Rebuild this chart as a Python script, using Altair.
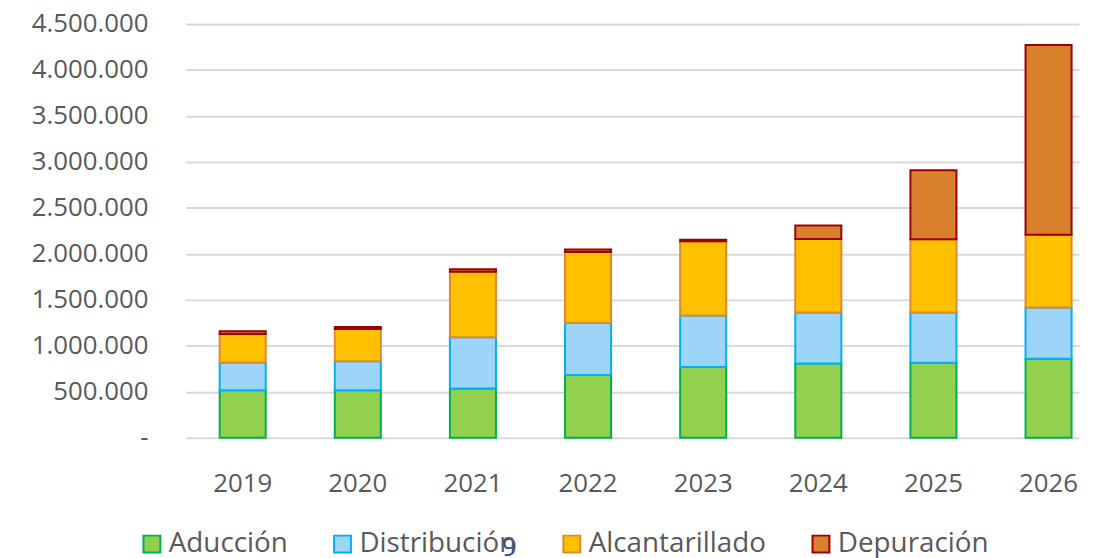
import altair as alt
import pandas as pd

years = ["2019", "2020", "2021", "2022", "2023", "2024", "2025", "2026"]
series = ["Aducción", "Distribución", "Alcantarillado", "Depuración"]
aduccion = [518000, 518000, 536000, 683000, 770000, 809000, 816000, 860000]
distribucion = [302000, 316000, 557000, 565000, 561000, 554000, 547000, 557000]
alcantarillado = [310000, 350000, 712000, 773000, 806000, 799000, 795000, 792000]
depuracion = [30000, 21000, 29000, 26000, 18000, 147000, 752000, 2061000]
y_ticks = [0, 500000, 1000000, 1500000, 2000000, 2500000, 3000000, 3500000, 4000000, 4500000]

fills = ["#92D050", "#9DD4F9", "#FFC000", "#D8802B"]
strokes = ["#00B050", "#00B0F0", "#E0882E", "#9C0000"]

rows = []
for i, (name, vals) in enumerate(zip(series, [aduccion, distribucion, alcantarillado, depuracion])):
    for y, v in zip(years, vals):
        rows.append({"year": y, "serie": name, "valor": v, "orden": i})
df = pd.DataFrame(rows)

bars = alt.Chart(df).mark_bar(strokeWidth=2).encode(
    x=alt.X("year:O", sort=years, title=None,
            scale=alt.Scale(paddingInner=0.6, paddingOuter=0.18, align=0.82),
            axis=alt.Axis(labelAngle=0, ticks=False, domain=False, labelFontSize=26,
                          labelPadding=33, labelColor="#595959", labelFont="Open Sans")),
    y=alt.Y("valor:Q", stack="zero", title=None,
            scale=alt.Scale(domain=[0, 4500000], nice=False),
            axis=alt.Axis(values=y_ticks, ticks=False, domain=False, labelFontSize=26,
                          labelPadding=38, labelColor="#595959", labelFont="Open Sans",
                          gridColor="#D9D9D9", gridWidth=2,
                          labelExpr="datum.value == 0 ? '-' : replace(format(datum.value, ','), regexp(',', 'g'), '.')")),
    color=alt.Color("serie:N", scale=alt.Scale(domain=series, range=fills), title=None),
    stroke=alt.Stroke("serie:N", scale=alt.Scale(domain=series, range=strokes), title=None),
    order=alt.Order("orden:Q", sort="ascending"),
)

page_num = alt.Chart(pd.DataFrame({"t": ["9"]})).mark_text(
    fontSize=26, color="#1F4E9A", font="Open Sans", align="center", baseline="middle"
).encode(text="t:N", x=alt.value(326), y=alt.value(528))

chart = alt.layer(bars, page_num).properties(
    width=900, height=417,
    autosize=alt.AutoSizeParams(type="none"),
    padding={"left": 179, "top": 14, "right": 6, "bottom": 119},
).configure_view(stroke=None).configure_legend(
    orient="none", legendX=-48, legendY=510, direction="horizontal",
    symbolType="square", symbolSize=289, symbolStrokeWidth=2, symbolOpacity=1,
    labelFontSize=28, labelColor="#595959", labelFont="Open Sans", labelLimit=400,
    columnPadding=41, labelOffset=3, padding=0,
)

chart.save("out.html", embed_options={"renderer": "svg", "actions": False})
